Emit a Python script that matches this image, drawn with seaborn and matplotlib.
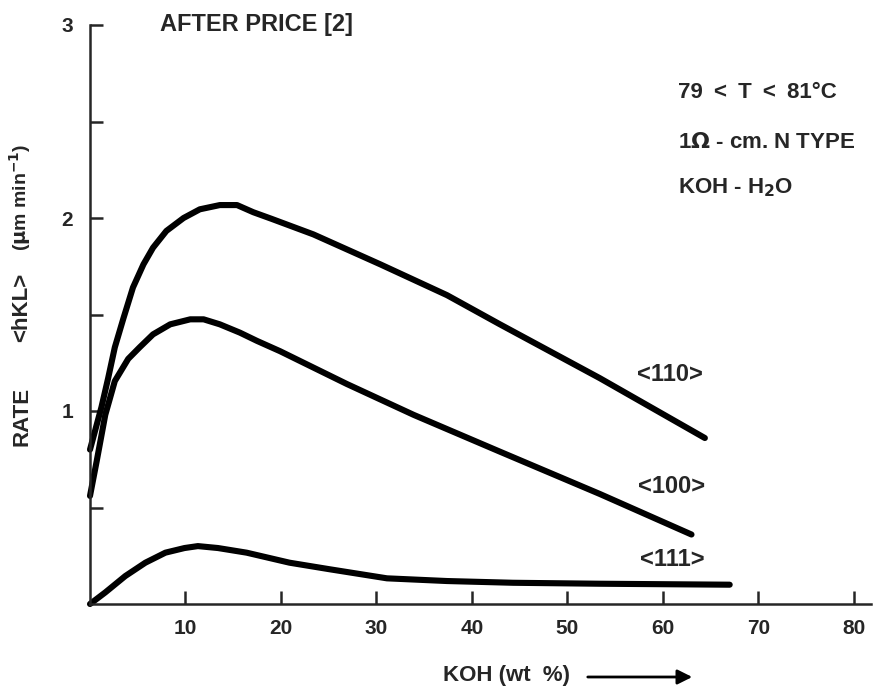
import matplotlib
matplotlib.use("Agg")
import matplotlib.pyplot as plt
import seaborn as sns
import pandas as pd

# etch rate curves (KOH wt %, rate in um/min)
koh_110 = [0, 0.6, 1.2, 1.9, 2.6, 3.5, 4.5, 5.6, 6.6, 8.0, 9.8, 11.5, 13.6,
           15.4, 17.1, 19.0, 23.4, 30.4, 37.4, 42.9, 53.4, 64.4]
rate_110 = [0.80, 0.91, 1.02, 1.17, 1.33, 1.48, 1.64, 1.76, 1.846, 1.933, 2.00,
            2.045, 2.067, 2.067, 2.03, 1.996, 1.915, 1.76, 1.60, 1.45, 1.17, 0.86]

koh_100 = [0, 0.7, 1.6, 2.6, 4.0, 5.2, 6.6, 8.4, 10.5, 11.9, 13.6, 15.7, 17.5,
           19.9, 26.9, 33.9, 42.9, 53.4, 63.0]
rate_100 = [0.56, 0.74, 0.98, 1.155, 1.27, 1.33, 1.397, 1.449, 1.475, 1.475,
            1.449, 1.406, 1.363, 1.31, 1.14, 0.98, 0.79, 0.57, 0.36]

koh_111 = [0, 1.6, 3.7, 5.8, 7.9, 9.9, 11.3, 13.4, 16.4, 20.9, 25.1, 31.1, 37.4,
           44.3, 53.4, 67.0]
rate_111 = [0.0, 0.06, 0.145, 0.214, 0.266, 0.29, 0.30, 0.29, 0.266, 0.214, 0.18,
            0.133, 0.119, 0.11, 0.105, 0.10]

x_ticks = [10, 20, 30, 40, 50, 60, 70, 80]
y_ticks = [0.5, 1, 1.5, 2, 2.5, 3]
y_ticklabels = ["", "1", "", "2", "", "3"]

sns.set_style("ticks")
plt.rcParams['font.family'] = ['Liberation Sans', 'DejaVu Sans']
plt.rcParams['font.weight'] = 'bold'

fig = plt.figure(figsize=(8.79, 6.88), dpi=100)
ax = fig.add_axes([90 / 879, 1 - 604 / 688, 781 / 879, 579 / 688])

curves = [(koh_110, rate_110), (koh_100, rate_100), (koh_111, rate_111)]
for xs, ys in curves:
    df = pd.DataFrame({"koh": xs, "rate": ys})
    sns.lineplot(data=df, x="koh", y="rate", ax=ax, color="black", lw=4.4,
                 sort=False, estimator=None, solid_capstyle="round",
                 solid_joinstyle="round", clip_on=False)

ax.set_xlim(0, 81.8)
ax.set_ylim(0, 3)
ax.set_xticks(x_ticks)
ax.set_xticklabels([str(t) for t in x_ticks])
ax.set_yticks(y_ticks)
ax.set_yticklabels(y_ticklabels)
ax.tick_params(direction="in", length=9.5, width=1.8, labelsize=15)
ax.tick_params(axis="x", pad=11)
ax.tick_params(axis="y", pad=12)
for lab in ax.get_xticklabels() + ax.get_yticklabels():
    lab.set_fontweight("bold")
sns.despine(ax=ax)
for s in ["left", "bottom"]:
    ax.spines[s].set_linewidth(1.8)
ax.set_xlabel("")
ax.set_ylabel("")

# curve labels
ax.text(60.7, 1.19, "<110>", fontsize=17, ha="center", va="center")
ax.text(60.9, 0.61, "<100>", fontsize=17, ha="center", va="center")
ax.text(61.0, 0.23, "<111>", fontsize=17, ha="center", va="center")

# title and conditions
fig.text(160 / 879, 1 - 25 / 688, "AFTER PRICE [2]", fontsize=17, ha="left", va="center")
fig.text(678 / 879, 1 - 93 / 688, "79\u2002<\u2002T\u2002<\u200281°C", fontsize=16,
         ha="left", va="center")
fig.text(678 / 879, 1 - 142 / 688, r"1$\Omega$ - cm. N TYPE", fontsize=16, ha="left", va="center")
fig.text(678 / 879, 1 - 188 / 688, r"KOH - H$_\mathbf{2}$O", fontsize=16, ha="left", va="center")

# y axis label pieces
fig.text(22 / 879, 1 - 416 / 688, "RATE", fontsize=16, rotation=90, ha="center", va="center")
fig.text(22 / 879, 1 - 307 / 688, "<hKL>", fontsize=16, rotation=90, ha="center", va="center")
fig.text(20 / 879, 1 - 197 / 688, r"($\mathbf{\mu}$m min$^{\mathbf{-1}}$)", fontsize=14,
         rotation=90, ha="center", va="center")

# x axis label with arrow
fig.text(443 / 879, 1 - 675 / 688, "KOH (wt  %)", fontsize=16, ha="left", va="center")
fig.patches.append(matplotlib.patches.FancyArrowPatch(
    (585 / 879, 1 - 677 / 688), (695 / 879, 1 - 677 / 688),
    transform=fig.transFigure, arrowstyle="-|>", mutation_scale=22,
    lw=2, color="black"))

fig.savefig("out.png", dpi=100)
